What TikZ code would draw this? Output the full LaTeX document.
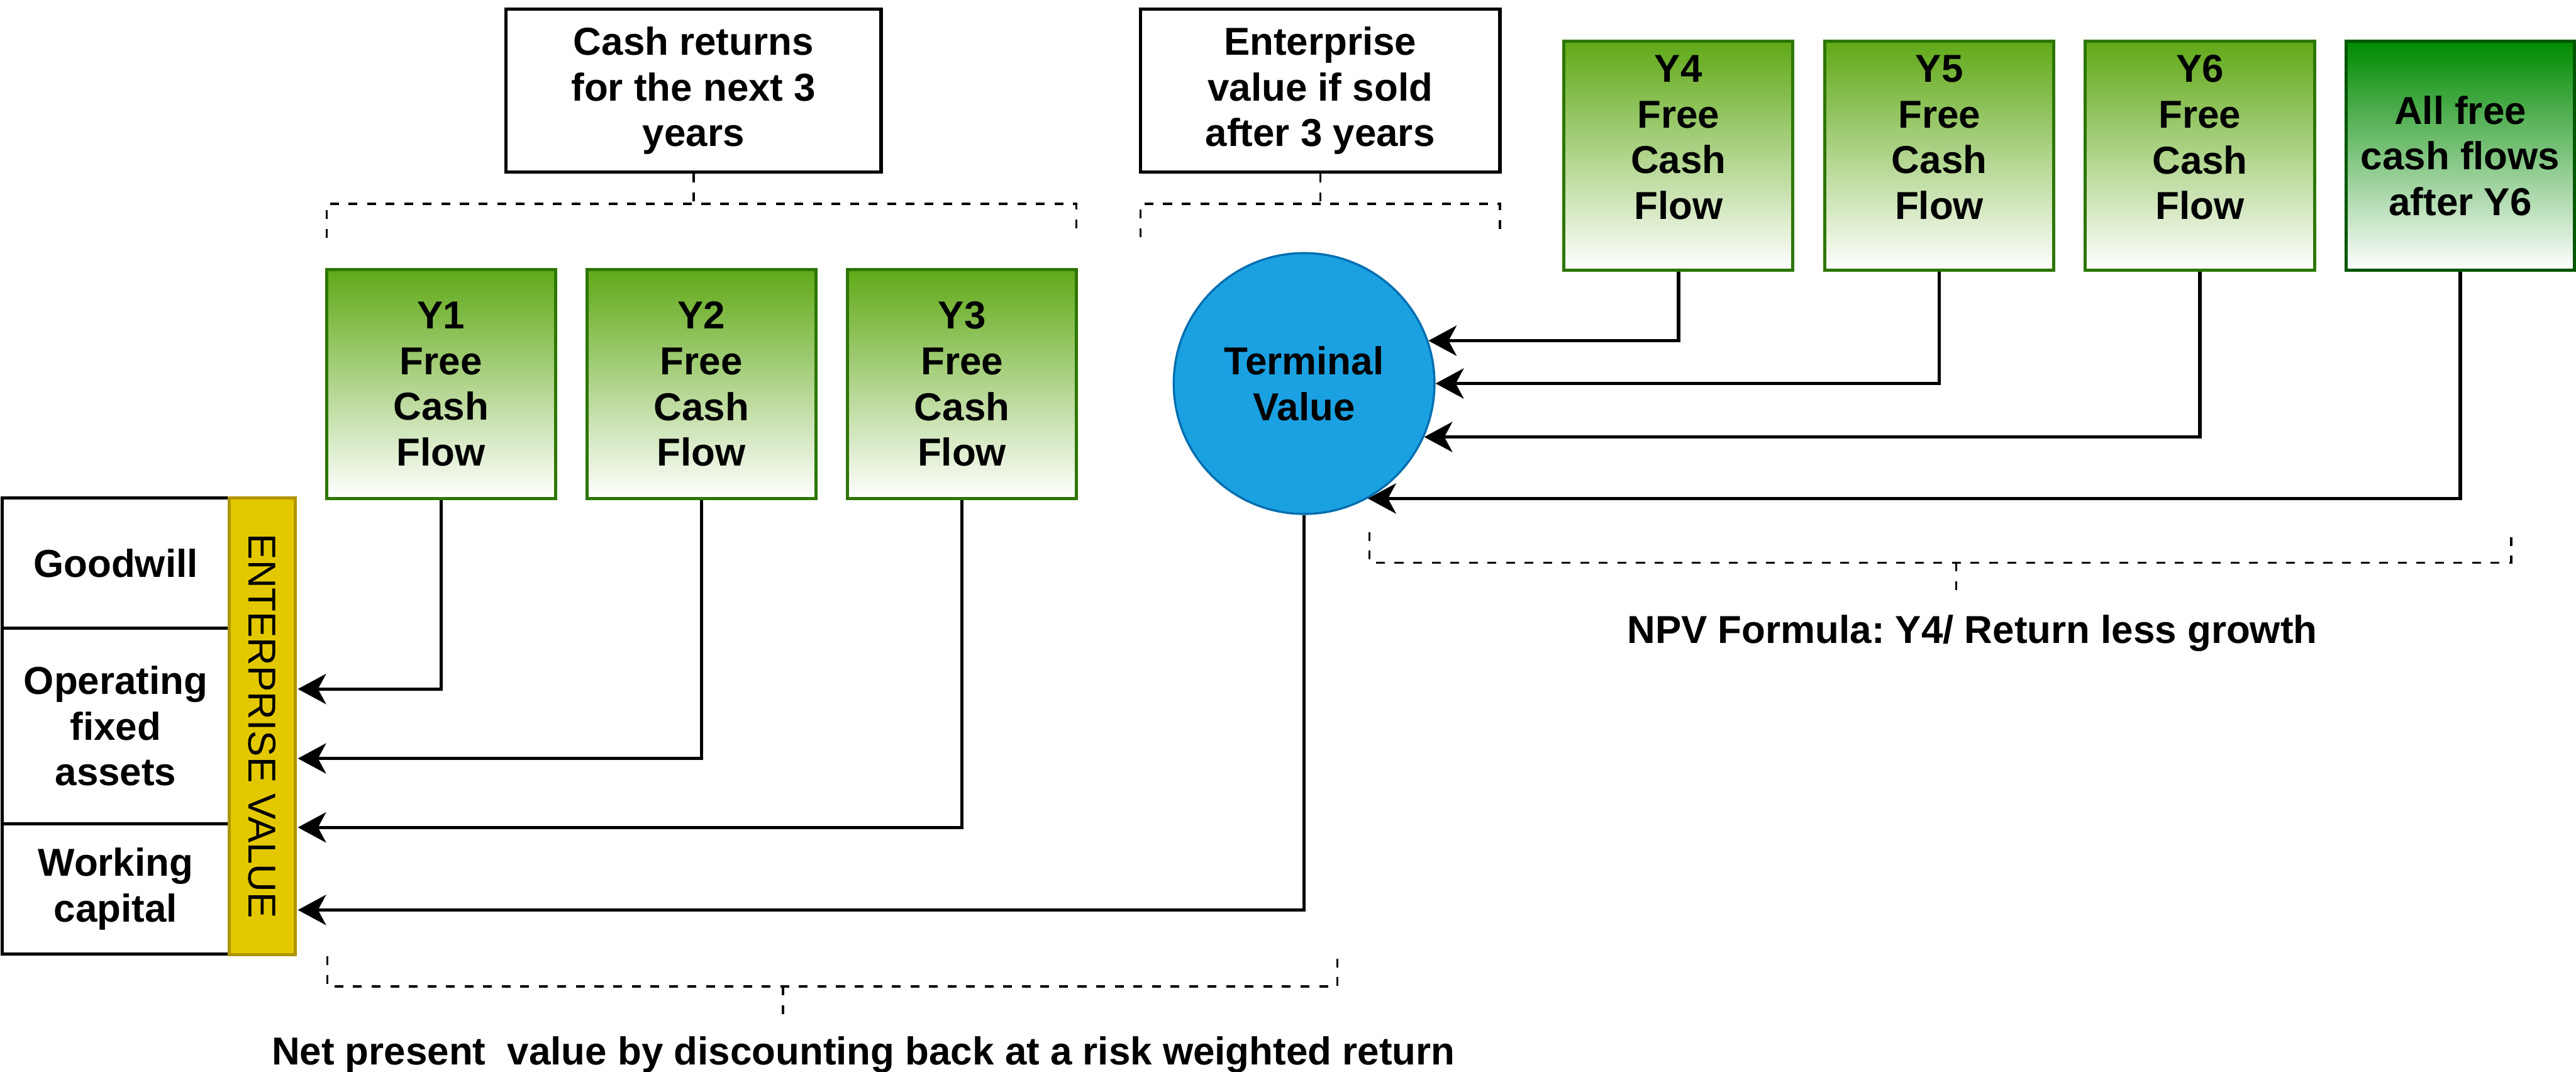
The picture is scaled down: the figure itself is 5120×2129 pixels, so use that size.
\documentclass[tikz,border=0pt]{standalone}
\usepackage{fontspec}
\setmainfont{Liberation Sans}
\usetikzlibrary{arrows.meta,shapes.geometric}
\definecolor{gfill}{HTML}{60A917}
\definecolor{gstroke}{HTML}{2D7600}
\definecolor{dgfill}{HTML}{008A00}
\definecolor{dgstroke}{HTML}{005700}
\definecolor{yfill}{HTML}{E3C800}
\definecolor{ystroke}{HTML}{B09500}
\definecolor{bfill}{HTML}{1BA1E2}
\definecolor{bstroke}{HTML}{006EAF}
\frenchspacing
\begin{document}
\begin{tikzpicture}[x=0.01cm,y=-0.01cm,
  txt/.style={font=\fontsize{22}{25.8}\selectfont\bfseries, align=center, inner sep=0pt},
  tbox/.style={txt, draw=black, line width=1.8pt, fill=white},
  gbox/.style={txt, draw=gstroke, line width=1.8pt, top color=gfill, bottom color=white, minimum width=4.55cm},
  dgbox/.style={txt, draw=dgstroke, line width=1.8pt, top color=dgfill, bottom color=white, minimum width=4.54cm},
  ybox/.style={draw=ystroke, line width=1.8pt, fill=yfill},
  tvnode/.style={txt, circle, draw=bstroke, line width=1.2pt, fill=bfill, minimum size=5.18cm},
  conn/.style={line width=1.9pt, draw=black},
  arr/.style={conn, -{Stealth[length=0.56cm,width=0.6cm,inset=0.16cm]}},
  dline/.style={line width=1.2pt, dash pattern=on 5pt off 5.5pt},
]
\useasboundingbox (0,0) rectangle (5120,2129);

% top description boxes
\node[tbox, minimum width=7.45cm, minimum height=3.24cm] (cr) at (1378.5,180) {Cash returns\\for the next 3\\years};
\node[tbox, minimum width=7.14cm, minimum height=3.24cm] (esv) at (2624,180) {Enterprise\\value if sold\\after 3 years};

% brackets below top boxes
\coordinate (b1) at (1378.5,405);
\draw[dline] (649,472) -- (649,405) -- (2139,405) -- (2139,472);
\draw[dline] (cr.south) -- (b1);
\coordinate (b2) at (2624,405);
\draw[dline] (2267,471) -- (2267,405) -- (2981,405) -- (2981,471);
\draw[dline] (esv.south) -- (b2);

% Y1-Y3 free cash flow boxes
\node[gbox, minimum height=4.54cm] (y1) at (876.5,763) {Y1\\Free\\Cash\\Flow};
\node[gbox, minimum height=4.54cm] (y2) at (1394,763) {Y2\\Free\\Cash\\Flow};
\node[gbox, minimum height=4.54cm] (y3) at (1912,763) {Y3\\Free\\Cash\\Flow};

% Y4-Y6 boxes
\node[gbox, minimum height=4.55cm] (y4) at (3336,309.5) {};
\node[txt] (y4t) at (3336,273) {Y4\\Free\\Cash\\Flow};
\node[gbox, minimum height=4.55cm] (y5) at (3854.5,309.5) {};
\node[txt] (y5t) at (3854.5,273) {Y5\\Free\\Cash\\Flow};
\node[gbox, minimum height=4.55cm] (y6) at (4372.5,309.5) {};
\node[txt] (y6t) at (4372.5,273) {Y6\\Free\\Cash\\Flow};
\node[dgbox, minimum height=4.55cm] (yall) at (4890,309.5) {All free\\cash flows\\after Y6};

% terminal value
\node[tvnode] (tv) at (2592,762) {Terminal\\Value};

% left stack
\node[tbox, minimum width=4.52cm, minimum height=2.58cm] (gw) at (230,1119) {Goodwill};
\node[tbox, minimum width=4.52cm, minimum height=3.89cm] (ofa) at (230,1442.5) {Operating\\fixed\\assets};
\node[tbox, minimum width=4.52cm, minimum height=2.59cm] (wc) at (230,1766.5) {Working\\capital};
\node[ybox, minimum width=1.31cm, minimum height=9.06cm,
      label={[rotate=-90, font=\fontsize{22}{25.8}\selectfont, inner sep=0pt]center:ENTERPRISE VALUE}] (evb) at (521.5,1443) {};

% arrow end points on the enterprise value bar
\coordinate (e1) at (592,1369);
\coordinate (e2) at (592,1507);
\coordinate (e3) at (592,1644);
\coordinate (e4) at (592,1808);

\draw[arr] (y1.south) |- (e1);
\draw[arr] (y2.south) |- (e2);
\draw[arr] (y3.south) |- (e3);
\draw[arr] (tv.south) |- (e4);

% arrows into terminal value
\draw[arr] (y4.south) |- (tv.19.6);
\draw[arr] (y5.south) |- (tv.0);
\draw[arr] (y6.south) |- (tv.-24.6);
\draw[arr] (yall.south) |- (tv.-61.2);

% NPV bracket
\coordinate (n1) at (3888,1118);
\coordinate (n2) at (3888,1187);
\draw[dline] (2722,1057) -- (2722,1118) -- (4991,1118) -- (4991,1057);
\draw[dline] (n1) -- (n2);
\node[txt, anchor=base] (npv) at (3920,1278) {NPV Formula: Y4/ Return less growth};

% bottom bracket
\coordinate (m1) at (1556,1960);
\coordinate (m2) at (1556,2022);
\draw[dline] (651,1900) -- (651,1960) -- (2658,1960) -- (2658,1900);
\draw[dline] (m1) -- (m2);
\node[txt, anchor=base] (netpv) at (1716,2116) {Net present\ \ value by discounting back at a risk weighted return};
\end{tikzpicture}
\end{document}
